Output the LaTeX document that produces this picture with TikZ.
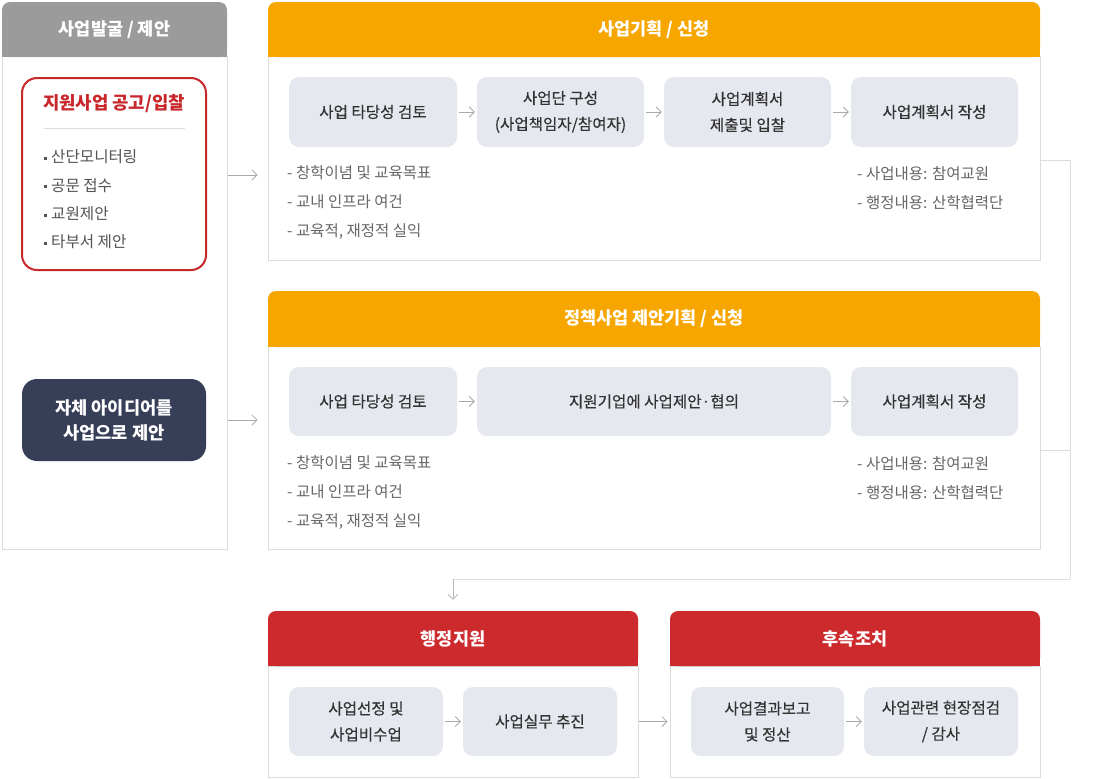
\documentclass[tikz,border=0pt]{standalone}
\usepackage{fontspec}
\setmainfont{Noto Sans CJK KR}
\newfontfamily\medfont[FakeBold=0.35]{Noto Sans CJK KR}
\usetikzlibrary{arrows.meta}
\definecolor{hdgray}{HTML}{9B9B9B}
\definecolor{hdorange}{HTML}{F7A600}
\definecolor{hdred}{HTML}{CD2A2D}
\definecolor{navy}{HTML}{363E58}
\definecolor{boxgray}{HTML}{E6E8EF}
\definecolor{linegray}{HTML}{DCDCDC}
\definecolor{arrgray}{HTML}{AAAAAA}
\definecolor{txtdark}{HTML}{333333}
\definecolor{txtnote}{HTML}{666666}
\definecolor{titlered}{HTML}{C8272C}
\tikzset{
	panel/.style={draw=linegray, line width=1pt, fill=white, inner sep=0pt},
	head/.style={rounded corners=8pt, inner sep=0pt, text=white, font=\fontsize{17.5}{20}\selectfont\bfseries},
	stepbox/.style={fill=boxgray, rounded corners=10pt, inner sep=0pt, text=txtdark, align=center, font=\fontsize{15.6}{26}\selectfont\medfont},
	note/.style={anchor=west, align=left, inner sep=0pt, text=txtnote, font=\fontsize{15.5}{29}\selectfont},
	flow/.style={draw=arrgray, line width=0.8pt, -{Straight Barb[length=5pt,width=10pt]}},
	wire/.style={draw=linegray, line width=1pt}
}
\def\sqbul{\raisebox{0.35ex}{\rule{3pt}{3pt}}\hspace{4pt}}

\begin{document}
\begin{tikzpicture}[x=1pt, y=-1pt]
			%%%%% START %%%%%
			\useasboundingbox (0,0) rectangle (1103,779);
			
			% left column
			\node[panel, minimum width=225, minimum height=493] (found) at (114.5,302.5) {};
			\fill[hdgray] (2,30) rectangle (227,57);
			\node[head, fill=hdgray, minimum width=225, minimum height=55] (foundhead) at (114.5,29.5) {사업발굴 / 제안};
			
			\node[draw=titlered, line width=2pt, rounded corners=15pt, minimum width=184, minimum height=192] (notice) at (114,174) {};
			\node[inner sep=0pt, text=titlered, font=\fontsize{17.8}{20}\selectfont\bfseries] (noticetitle) at (114,104) {지원사업 공고/입찰};
			\draw[linegray] (44,128) -- (185,128);
			\node[note, text=txtdark!85, font=\fontsize{15.6}{28.3}\selectfont] (noticelist) at (44,199.5) {\sqbul 산단모니터링\\ \sqbul 공문 접수\\ \sqbul 교원제안\\ \sqbul 타부서 제안};
			
			\node[fill=navy, rounded corners=15pt, minimum width=184, minimum height=82, align=center, text=white, font=\fontsize{17.6}{25}\selectfont\bfseries] (idea) at (114,420) {자체 아이디어를\\ 사업으로 제안};
			
			% plan panel
			\node[panel, minimum width=772, minimum height=204] (plan) at (654,158) {};
			\fill[hdorange] (268,30) rectangle (1040,57);
			\node[head, fill=hdorange, minimum width=772, minimum height=55] (planhead) at (654,29.5) {사업기획 / 신청};
			
			\node[stepbox, minimum width=168, minimum height=70] (p1) at (373,112) {사업 타당성 검토};
			\node[stepbox, minimum width=167, minimum height=70] (p2) at (560.5,112) {사업단 구성\\ (사업책임자/참여자)};
			\node[stepbox, minimum width=167, minimum height=70] (p3) at (747.5,112) {사업계획서\\ 제출및 입찰};
			\node[stepbox, minimum width=167, minimum height=70] (p4) at (934.5,112) {사업계획서 작성};
			\node[note] (planleft) at (287,203) {- 창학이념 및 교육목표\\ - 교내 인프라 여건\\ - 교육적, 재정적 실익};
			\node[note] (planright) at (857,188.5) {- 사업내용: 참여교원\\ - 행정내용: 산학협력단};
			
			% policy panel
			\node[panel, minimum width=772, minimum height=203] (mid) at (654,447.5) {};
			\fill[hdorange] (268,320) rectangle (1040,347);
			\node[head, fill=hdorange, minimum width=772, minimum height=56] (midhead) at (654,319) {정책사업 제안기획 / 신청};
			
			\node[stepbox, minimum width=168, minimum height=69] (m1) at (373,401.5) {사업 타당성 검토};
			\node[stepbox, minimum width=354, minimum height=69] (m2) at (654,401.5) {지원기업에 사업제안·협의};
			\node[stepbox, minimum width=167, minimum height=69] (m3) at (934.5,401.5) {사업계획서 작성};
			\node[note] (midleft) at (287,493) {- 창학이념 및 교육목표\\ - 교내 인프라 여건\\ - 교육적, 재정적 실익};
			\node[note] (midright) at (857,478.5) {- 사업내용: 참여교원\\ - 행정내용: 산학협력단};
			
			% bottom panels
			\node[panel, minimum width=370, minimum height=111] (admin) at (453,721.5) {};
			\fill[hdred] (268,639) rectangle (638,666);
			\node[head, fill=hdred, minimum width=370, minimum height=55] (adminhead) at (453,638.5) {행정지원};
			\node[stepbox, minimum width=154, minimum height=69] (a1) at (366,721.5) {사업선정 및\\ 사업비수업};
			\node[stepbox, minimum width=154, minimum height=69] (a2) at (540,721.5) {사업실무 추진};
			
			\node[panel, minimum width=370, minimum height=111] (follow) at (855,721.5) {};
			\fill[hdred] (670,639) rectangle (1040,666);
			\node[head, fill=hdred, minimum width=370, minimum height=55] (followhead) at (855,638.5) {후속조치};
			\node[stepbox, minimum width=153, minimum height=69] (f1) at (767.5,721.5) {사업결과보고\\ 및 정산};
			\node[stepbox, minimum width=154, minimum height=69] (f2) at (941,721.5) {사업관련 현장점검\\ / 감사};
			
			% arrows
			\draw[flow, shorten >=10pt] (found.east |- 0,175) -- (plan.west |- 0,175);
			\draw[flow, shorten >=10pt] (found.east |- idea) -- (mid.west |- idea);
			
			\draw[flow, shorten <=2pt, shorten >=2pt] (p1) -- (p2);
			\draw[flow, shorten <=2pt, shorten >=2pt] (p2) -- (p3);
			\draw[flow, shorten <=2pt, shorten >=2pt] (p3) -- (p4);
			\draw[flow, shorten <=2pt, shorten >=2pt] (m1) -- (m2);
			\draw[flow, shorten <=2pt, shorten >=2pt] (m2) -- (m3);
			\draw[flow, shorten <=2pt, shorten >=2pt] (a1) -- (a2);
			\draw[flow, shorten <=2pt, shorten >=2pt] (f1) -- (f2);
			\draw[flow, shorten >=2pt] (admin.east) -- (follow.west);
			
			\coordinate (turn) at (1070,579);
			\draw[wire] (plan.east |- 0,160) -| (turn);
			\draw[wire] (mid.east |- 0,450) -- (turn |- 0,450);
			\draw[wire] (turn) -- (turn -| adminhead.north);
			\draw[flow, draw=linegray!30!arrgray, shorten >=11pt] (turn -| adminhead.north) -- (adminhead.north);
			
			%%%%% END %%%%%
\end{tikzpicture}
\end{document}
